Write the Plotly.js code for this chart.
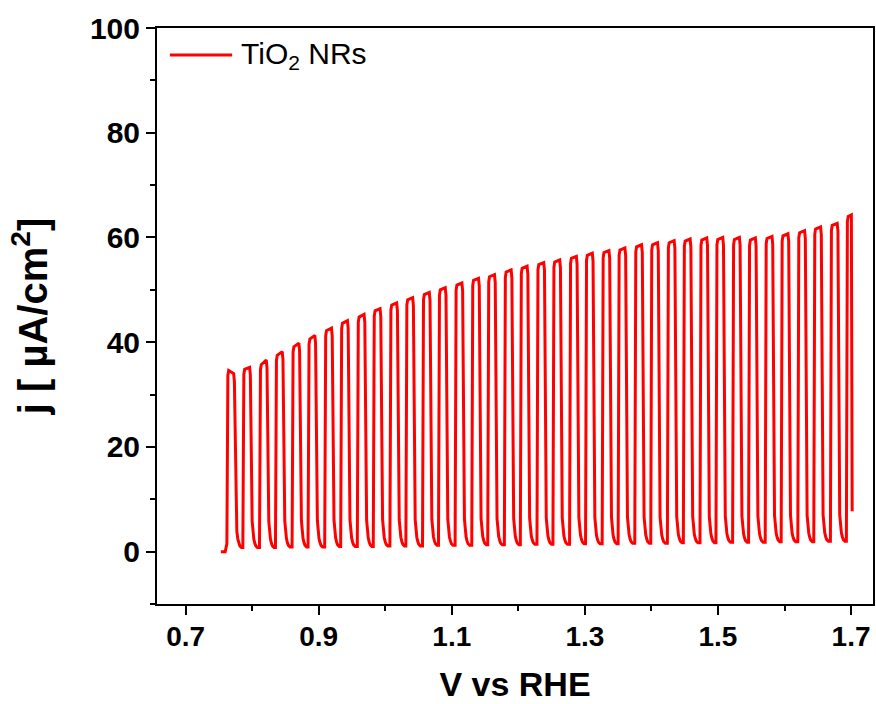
<!DOCTYPE html>
<html><head><meta charset="utf-8">
<script src="https://cdn.plot.ly/plotly-3.0.1.min.js"></script>
<style>html,body{margin:0;padding:0;background:#fff}#chart{width:876px;height:704px}</style>
</head><body><div id="chart"></div>
<script>
// ---- data ----
const seriesName = 'TiO<sub>2</sub> NRs';
// dark baseline before first light pulse
const baselineV = [0.753, 0.7595];
const baselineJ = [0, 0];
// voltage at which each light pulse starts (V vs RHE)
const riseV = [0.762,0.786,0.811,0.835,0.860,0.884,0.909,0.933,0.958,0.982,
  1.007,1.031,1.056,1.080,1.105,1.130,1.154,1.179,1.203,1.228,
  1.252,1.277,1.301,1.326,1.350,1.375,1.399,1.424,1.448,1.473,
  1.497,1.522,1.546,1.571,1.595,1.620,1.644,1.669,1.693];
// photocurrent at start / end of each illuminated plateau (uA/cm2)
const topStart = [34.6,34.8,35.7,37.5,39.1,40.6,42.2,43.6,44.8,46.0,
  47.1,48.1,49.1,50.0,50.9,51.8,52.5,53.4,54.1,54.8,
  55.3,56.0,56.6,57.1,57.6,58.2,58.6,59.0,59.3,59.5,
  59.6,59.6,59.5,59.8,60.3,60.9,61.6,62.3,64.0];
const topEnd = [34.0,35.2,36.6,38.2,39.8,41.3,42.7,44.1,45.3,46.4,
  47.5,48.5,49.5,50.4,51.3,52.2,52.9,53.8,54.5,55.2,
  55.7,56.4,57.0,57.5,58.0,58.6,59.0,59.4,59.7,59.9,
  60.0,60.0,59.9,60.2,60.7,61.3,62.0,62.7,64.3];
// dark current minimum after each pulse (uA/cm2)
const troughs = [0.8,0.8,0.8,0.9,0.9,0.9,1.0,1.0,1.0,1.1,1.1,1.1,1.2,1.2,1.2,1.3,1.3,1.3,1.4,1.4,
  1.4,1.5,1.5,1.5,1.6,1.6,1.6,1.7,1.7,1.7,1.8,1.8,1.8,1.9,1.9,1.9,2.0,2.0];
// shape of one pulse: offsets from pulse start (V)
const plateauDx = [0.0015, 0.0027, 0.0102, 0.0113];   // rise corner, plateau start, plateau end, fall corner
const decayDx   = [0.0140, 0.0150, 0.0165, 0.0180, 0.0195, 0.0219]; // decay after light off
const decayAbove = [5.0, 3.0, 1.6, 0.8, 0.3, 0.0];    // uA/cm2 above the dark minimum
// last pulse ends mid-fall
const endV = [1.7005, 1.7017];
const endJ = [64.3, 7.7];
const xTickVals = [0.7, 0.9, 1.1, 1.3, 1.5, 1.7];
const yTickVals = [0, 20, 40, 60, 80, 100];

// ---- build the trace ----
const xs = baselineV.slice(), ys = baselineJ.slice();
let prev = 1.5;
for (let k = 0; k < riseV.length; k++) {
  const r = riseV[k];
  xs.push(r); ys.push(prev);
  xs.push(r + plateauDx[0]); ys.push(topStart[k] - 1.0);
  xs.push(r + plateauDx[1]); ys.push(topStart[k]);
  if (k < troughs.length) {
    xs.push(r + plateauDx[2]); ys.push(topEnd[k]);
    xs.push(r + plateauDx[3]); ys.push(topEnd[k] - 1.5);
    for (let i = 0; i < decayDx.length; i++) {
      xs.push(r + decayDx[i]); ys.push(troughs[k] + decayAbove[i]);
    }
    prev = troughs[k];
  } else {
    for (let i = 0; i < endV.length; i++) { xs.push(endV[i]); ys.push(endJ[i]); }
  }
}

const FONT = 'Liberation Sans, Arial, sans-serif';
const trace = {
  x: xs, y: ys, type: 'scatter', mode: 'lines', name: seriesName,
  line: {color: '#ff0000', width: 3}, showlegend: false
};

const axisCommon = {
  showline: true, linecolor: '#000', linewidth: 2, mirror: true,
  showgrid: false, zeroline: false, ticks: 'outside', tickcolor: '#000',
  tickwidth: 2, ticklen: 9
};

const layout = {
  width: 876, height: 704,
  margin: {l: 157, r: 3, t: 28, b: 100},
  paper_bgcolor: '#fff', plot_bgcolor: '#fff',
  xaxis: Object.assign({}, axisCommon, {
    range: [0.657, 1.733], tickmode: 'array', tickvals: xTickVals,
    ticktext: xTickVals.map(v => v.toFixed(1)),
    ticklabelstandoff: -3,
    tickfont: {family: FONT, size: 28, color: '#000', weight: 'bold'},
    minor: {tickvals: [0.8, 1.0, 1.2, 1.4, 1.6], ticks: 'outside', ticklen: 5, tickwidth: 2, tickcolor: '#000'},
    title: {text: 'V vs RHE', standoff: 22, font: {family: FONT, size: 34, color: '#000', weight: 'bold'}}
  }),
  yaxis: Object.assign({}, axisCommon, {
    range: [-10, 100], tickmode: 'array', tickvals: yTickVals,
    tickfont: {family: FONT, size: 30, color: '#000', weight: 'bold'},
    minor: {tickvals: [-10, 10, 30, 50, 70, 90], ticks: 'outside', ticklen: 5, tickwidth: 2, tickcolor: '#000'},
    title: {text: 'j [ µA/cm<sup>2</sup>]', standoff: 30, font: {family: FONT, size: 40, color: '#000', weight: 'bold'}}
  }),
  shapes: [{type: 'line', xref: 'paper', yref: 'paper', x0: 0.018, x1: 0.105, y0: 0.953, y1: 0.953,
    line: {color: '#ff0000', width: 3}}],
  annotations: [{xref: 'paper', yref: 'paper', x: 0.114, y: 0.953, xanchor: 'left', yanchor: 'middle',
    text: seriesName, showarrow: false, font: {family: FONT, size: 30, color: '#000'}}]
};

Plotly.newPlot('chart', [trace], layout, {displayModeBar: false, staticPlot: true});
</script>
</body></html>
